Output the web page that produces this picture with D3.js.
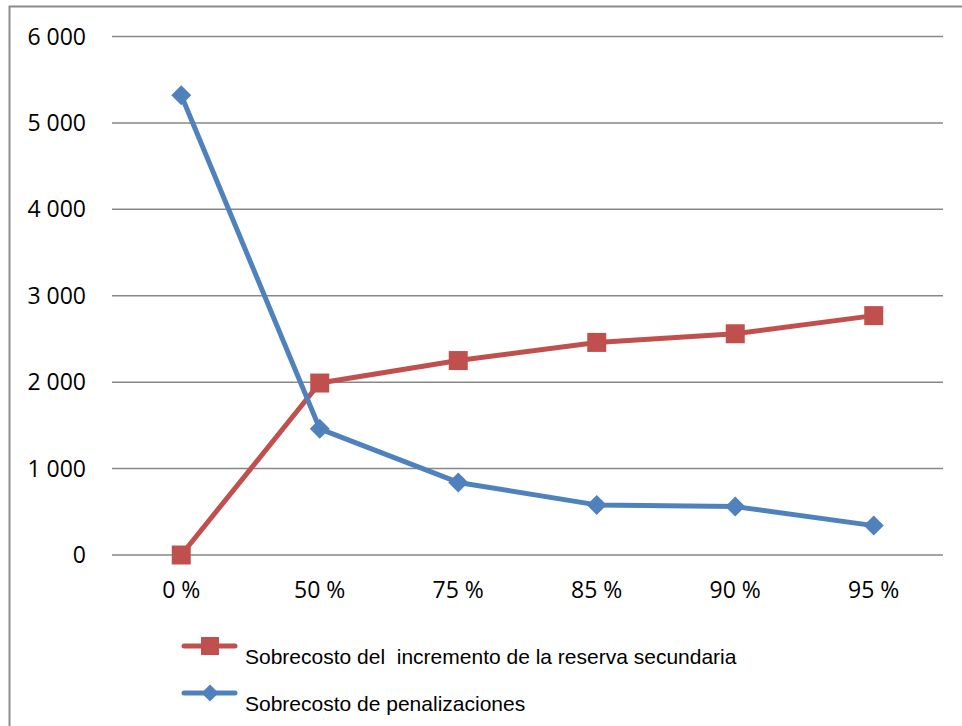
<!DOCTYPE html>
<html>
<head>
<meta charset="utf-8">
<script src="https://cdn.jsdelivr.net/npm/d3@7"></script>
<style>
  body { margin: 0; background: #fff; }
  svg { display: block; }
</style>
</head>
<body>
<div id="chart"></div>
<script>
const categories = ["0 %", "50 %", "75 %", "85 %", "90 %", "95 %"]
const reserva = [0, 1990, 2250, 2460, 2560, 2770]
const penalizaciones = [5320, 1460, 840, 580, 560, 340]
const yTicks = [0, 1000, 2000, 3000, 4000, 5000, 6000]
const seriesNames = ["Sobrecosto del  incremento de la reserva secundaria", "Sobrecosto de penalizaciones"]

const W = 962, H = 726
const plot = { left: 112, right: 943, top: 36.5, bottom: 555 }

const svg = d3.select("#chart").append("svg")
  .attr("width", W)
  .attr("height", H)

// outer frame (right and bottom run off the picture)
svg.append("path")
  .attr("d", "M9.5," + H + " V6.5 H" + W)
  .attr("fill", "none")
  .attr("stroke", "#8c8c8c")
  .attr("stroke-width", 2)

const x = d3.scaleBand().domain(categories).range([plot.left, plot.right])
const y = d3.scaleLinear().domain([0, 6000]).range([plot.bottom, plot.top])

const fmt = v => d3.format(",")(v).replace(",", " ")

// grid lines
svg.append("g")
  .selectAll("line")
  .data(yTicks)
  .enter()
  .append("line")
  .attr("x1", plot.left)
  .attr("x2", plot.right)
  .attr("y1", d => y(d))
  .attr("y2", d => y(d))
  .attr("stroke", "#878787")
  .attr("stroke-width", 1.5)

// y labels
svg.append("g")
  .selectAll("text")
  .data(yTicks)
  .enter()
  .append("text")
  .attr("x", 86)
  .attr("y", d => y(d) + 8)
  .attr("text-anchor", "end")
  .style("font-family", "'Open Sans', sans-serif")
  .style("font-size", "23px")
  .attr("fill", "#000")
  .text(d => fmt(d))

// x labels
svg.append("g")
  .selectAll("text")
  .data(categories)
  .enter()
  .append("text")
  .attr("x", d => x(d) + x.bandwidth() / 2)
  .attr("y", 598)
  .attr("text-anchor", "middle")
  .style("font-family", "'Open Sans', sans-serif")
  .style("font-size", "23px")
  .attr("fill", "#000")
  .text(d => d)

const line = d3.line()
  .x((d, i) => x(categories[i]) + x.bandwidth() / 2)
  .y(d => y(d))

const red = "#C0504D", blue = "#4F81BD"

function square(g, cx, cy, s, color) {
  g.append("rect")
    .attr("x", cx - s / 2)
    .attr("y", cy - s / 2)
    .attr("width", s)
    .attr("height", s)
    .attr("fill", color)
}
function diamond(g, cx, cy, r, color) {
  g.append("path")
    .attr("d", `M${cx},${cy - r} L${cx + r},${cy} L${cx},${cy + r} L${cx - r},${cy} Z`)
    .attr("fill", color)
}

// red series
svg.append("path")
  .datum(reserva)
  .attr("d", line)
  .attr("fill", "none")
  .attr("stroke", red)
  .attr("stroke-width", 5)
  .attr("stroke-linejoin", "round")
const gr = svg.append("g")
reserva.forEach((v, i) => square(gr, x(categories[i]) + x.bandwidth() / 2, y(v), 19, red))

// blue series
svg.append("path")
  .datum(penalizaciones)
  .attr("d", line)
  .attr("fill", "none")
  .attr("stroke", blue)
  .attr("stroke-width", 5)
  .attr("stroke-linejoin", "round")
const gb = svg.append("g")
penalizaciones.forEach((v, i) => diamond(gb, x(categories[i]) + x.bandwidth() / 2, y(v), 10, blue))

// legend
const legend = svg.append("g")
const legendY = [646, 693]
const colors = [red, blue]
seriesNames.forEach((name, i) => {
  legend.append("line")
    .attr("x1", 184).attr("x2", 235)
    .attr("y1", legendY[i]).attr("y2", legendY[i])
    .attr("stroke", colors[i])
    .attr("stroke-width", 5)
    .attr("stroke-linecap", "round")
  if (i === 0) square(legend, 210, legendY[i], 18, red)
  else diamond(legend, 210, legendY[i], 8.5, blue)
  legend.append("text")
    .attr("x", 245)
    .attr("y", legendY[i] + 18)
    .style("font-family", "'Liberation Sans', Arial, sans-serif")
    .style("font-size", "21px")
    .attr("fill", "#000")
    .style("white-space", "pre")
    .text(name)
})
</script>
</body>
</html>
